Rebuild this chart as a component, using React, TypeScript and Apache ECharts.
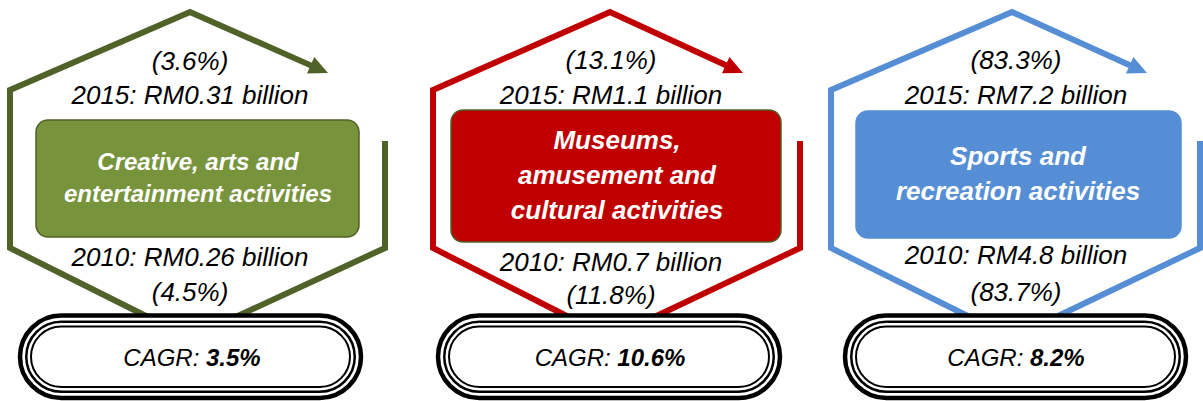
import React, { useEffect, useRef } from "react";
import * as echarts from "echarts";

// ---- data ----
const categories: string[][] = [
  ["Creative, arts and", "entertainment activities"],
  ["Museums,", "amusement and", "cultural activities"],
  ["Sports and", "recreation activities"],
];
const value2015 = [0.31, 1.1, 7.2]; // RM billion
const value2010 = [0.26, 0.7, 4.8]; // RM billion
const share2015 = [3.6, 13.1, 83.3]; // %
const share2010 = [4.5, 11.8, 83.7]; // %
const cagr = [3.5, 10.6, 8.2]; // %

// ---- styles / layout ----
const lineColors = ["#4F6228", "#C00000", "#558ED5"];
const boxColors = ["#77933C", "#C00000", "#558ED5"];
const boxBorders = ["#4F6228", "#4F6228", "#558ED5"];
const boxFontSizes = [24, 26, 26];
const layouts = [
  { left: 10, right: 385, apex: 190, tip: [328, 73], box: [36, 120, 323, 117], boxTextX: 198, textX: 190, y15: [61, 95], y10: [257, 292], oval: [20, 361], cagrX: 192 },
  { left: 433, right: 800, apex: 610, tip: [743, 73], box: [451, 110, 330, 132], boxTextX: 617, textX: 611, y15: [60, 95], y10: [262, 295], oval: [438, 780], cagrX: 610 },
  { left: 831, right: 1200, apex: 1012, tip: [1147, 73], box: [856, 111, 325, 127], boxTextX: 1018, textX: 1016, y15: [60, 95], y10: [255, 292], oval: [845, 1186], cagrX: 1016 },
];
const FONT = '"Liberation Sans", Arial, sans-serif';

function buildGraphic() {
  const els: any[] = [];
  categories.forEach((cat, i) => {
    const L = layouts[i];
    const c = lineColors[i];
    const lw = 6;
    const topY = 12;
    const sideTop = 90;
    const sideBottom = 248;
    const rightTop = 141;
    const bottomY = 338;
    // arrow geometry
    const dx = L.tip[0] - L.apex;
    const dy = L.tip[1] - topY;
    const len = Math.sqrt(dx * dx + dy * dy);
    const ux = dx / len;
    const uy = dy / len;
    const headLen = 19;
    const headHalf = 9;
    const bx = L.tip[0] - ux * headLen;
    const by = L.tip[1] - uy * headLen;
    els.push({
      type: "polyline",
      shape: {
        points: [
          [L.apex, bottomY],
          [L.left, sideBottom],
          [L.left, sideTop],
          [L.apex, topY],
          [bx + ux * 2, by + uy * 2],
        ],
      },
      style: { stroke: c, lineWidth: lw, fill: "none", lineJoin: "miter" },
    });
    els.push({
      type: "polygon",
      shape: {
        points: [
          [L.tip[0], L.tip[1]],
          [bx - uy * headHalf, by + ux * headHalf],
          [bx + uy * headHalf, by - ux * headHalf],
        ],
      },
      style: { fill: c },
    });
    els.push({
      type: "polyline",
      shape: {
        points: [
          [L.right, rightTop],
          [L.right, sideBottom],
          [L.apex, bottomY],
        ],
      },
      style: { stroke: c, lineWidth: lw, fill: "none", lineJoin: "miter" },
    });
    // central box
    const [x, y, w, h] = L.box;
    els.push({
      type: "rect",
      shape: { x, y, width: w, height: h, r: 12 },
      style: { fill: boxColors[i], stroke: boxBorders[i], lineWidth: 1.5 },
    });
    const fs = boxFontSizes[i];
    const lh = i === 0 ? 32 : 35;
    els.push({
      type: "text",
      x: L.boxTextX,
      y: y + h / 2 - 1,
      style: {
        text: cat.join("\n"),
        fill: "#FFFFFF",
        fontSize: fs,
        fontWeight: "bold",
        fontStyle: "italic",
        fontFamily: FONT,
        lineHeight: lh,
        align: "center",
        verticalAlign: "middle",
      },
    });
    const plain = (text: string, tx: number, ty: number) => ({
      type: "text",
      x: tx,
      y: ty,
      style: {
        text,
        fill: "#000000",
        fontSize: 26,
        fontStyle: "italic",
        fontFamily: FONT,
        align: "center",
        verticalAlign: "middle",
      },
    });
    els.push(plain("(" + share2015[i].toFixed(1) + "%)", L.textX, L.y15[0]));
    els.push(plain("2015: RM" + String(value2015[i]) + " billion", L.textX, L.y15[1]));
    els.push(plain("2010: RM" + String(value2010[i]) + " billion", L.textX, L.y10[0]));
    els.push(plain("(" + share2010[i].toFixed(1) + "%)", L.textX, L.y10[1]));
    // CAGR oval (triple line)
    const ox0 = L.oval[0];
    const ox1 = L.oval[1];
    const oy0 = 315.5;
    const oy1 = 398;
    const rings = [
      { inset: 0, lw: 4.5, fill: "#FFFFFF" },
      { inset: 6.25, lw: 2.5, fill: "none" },
      { inset: 11, lw: 2, fill: "none" },
    ];
    rings.forEach((r) => {
      const rw = ox1 - ox0 - 2 * r.inset;
      const rh = oy1 - oy0 - 2 * r.inset;
      els.push({
        type: "rect",
        shape: { x: ox0 + r.inset, y: oy0 + r.inset, width: rw, height: rh, r: rh / 2 },
        style: { fill: r.fill, stroke: "#000000", lineWidth: r.lw },
      });
    });
    els.push({
      type: "text",
      x: L.cagrX,
      y: 357,
      style: {
        text: "{a|CAGR: }{b|" + cagr[i].toFixed(1) + "%}",
        align: "center",
        verticalAlign: "middle",
        rich: {
          a: { fontSize: 24, fontStyle: "italic", fontFamily: FONT, fill: "#000000" },
          b: { fontSize: 24, fontStyle: "italic", fontWeight: "bold", fontFamily: FONT, fill: "#000000" },
        },
      },
    });
  });
  return els;
}

export default function App() {
  const ref = useRef<HTMLDivElement>(null);
  useEffect(() => {
    if (!ref.current) return;
    const chart = echarts.init(ref.current, undefined, { renderer: "svg" });
    chart.setOption({
      animation: false,
      backgroundColor: "#FFFFFF",
      graphic: { elements: buildGraphic() },
    });
    return () => chart.dispose();
  }, []);
  return (
    <div
      ref={ref}
      style={{ position: "fixed", left: 0, top: 0, width: 1203, height: 401, background: "#FFFFFF" }}
    />
  );
}
